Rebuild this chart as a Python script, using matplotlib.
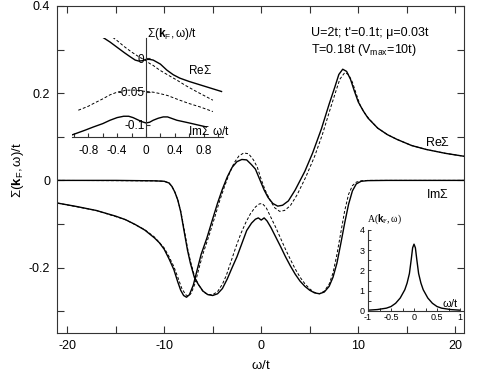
import matplotlib
matplotlib.use("Agg")
import matplotlib.pyplot as plt
from matplotlib.ticker import MultipleLocator

plt.rcParams['font.family'] = ['Liberation Sans', 'DejaVu Sans']
plt.rcParams['mathtext.fontset'] = 'custom'
plt.rcParams['mathtext.rm'] = 'Liberation Sans'
plt.rcParams['mathtext.bf'] = 'Liberation Sans:bold'
plt.rcParams['mathtext.it'] = 'Liberation Sans'
plt.rcParams['mathtext.default'] = 'regular'

# main panel: self energy at k_F, solid and dashed curves
w_re = [-21, -19, -17, -15, -14, -13, -12, -11, -10.5, -10, -9.5, -9, -8.6, -8.3, -8.0,
        -7.7, -7.4, -7.0, -6.6, -6.2, -5.6, -5.0, -4.5, -4.0, -3.5, -3.0, -2.5, -2.0,
        -1.5, -1.0, -0.6, -0.3, 0, 0.3, 0.7, 1.2, 1.7, 2.2, 2.8, 3.5, 4.5, 5.3, 6.2,
        7.0, 7.6, 8.0, 8.4, 8.8, 9.2, 9.6, 10.0, 10.5, 11.0, 12.0, 13.0, 14.0, 15.5,
        17.0, 19.0, 21.0]
re_solid = [-0.052, -0.060, -0.069, -0.082, -0.090, -0.101, -0.114, -0.132, -0.143,
            -0.158, -0.180, -0.205, -0.233, -0.252, -0.264, -0.268, -0.262, -0.240,
            -0.205, -0.170, -0.132, -0.088, -0.052, -0.020, 0.008, 0.030, 0.043, 0.048,
            0.047, 0.036, 0.026, 0.010, -0.006, -0.022, -0.039, -0.053, -0.059, -0.057,
            -0.047, -0.022, 0.021, 0.063, 0.118, 0.175, 0.215, 0.243, 0.255, 0.250,
            0.232, 0.205, 0.180, 0.160, 0.143, 0.120, 0.105, 0.094, 0.080, 0.071,
            0.062, 0.055]

w_re_d = [-21, -17, -14, -12, -11, -10, -9.5, -9.0, -8.6, -8.2, -7.8, -7.5, -7.2, -6.8,
          -6.4, -6.0, -5.4, -4.8, -4.3, -3.8, -3.3, -2.8, -2.3, -1.8, -1.3, -0.8, -0.4,
          0, 0.4, 0.9, 1.4, 1.9, 2.4, 3.0, 3.7, 4.6, 5.5, 6.3, 7.1, 7.7, 8.1, 8.6, 9.0,
          9.4, 9.8, 10.2, 10.7, 11.2, 12, 13, 14, 15.5, 17, 19, 21]
re_dash = [-0.052, -0.069, -0.090, -0.113, -0.130, -0.155, -0.175, -0.198, -0.222,
           -0.247, -0.262, -0.266, -0.258, -0.235, -0.200, -0.168, -0.128, -0.085,
           -0.048, -0.015, 0.015, 0.040, 0.056, 0.063, 0.061, 0.047, 0.030, 0.002,
           -0.022, -0.045, -0.063, -0.071, -0.069, -0.058, -0.033, 0.008, 0.055, 0.105,
           0.163, 0.205, 0.232, 0.247, 0.243, 0.225, 0.198, 0.172, 0.153, 0.139, 0.120,
           0.105, 0.094, 0.080, 0.071, 0.062, 0.055]

w_im = [-21, -15, -11, -10, -9.5, -9.2, -8.9, -8.6, -8.3, -8.0, -7.6, -7.3, -6.9, -6.5,
        -6.0, -5.5, -5.0, -4.5, -4.0, -3.5, -3.0, -2.5, -2.0, -1.5, -1.0, -0.6, -0.3, 0,
        0.3, 0.6, 1.0, 1.5, 2.0, 2.5, 3.0, 3.5, 4.0, 4.5, 5.0, 5.5, 6.0, 6.5, 7.0, 7.4,
        7.8, 8.2, 8.6, 9.0, 9.4, 9.8, 10.3, 11, 13, 21]
im_solid = [0.0, 0.0, -0.001, -0.002, -0.006, -0.014, -0.027, -0.045, -0.072, -0.110,
            -0.160, -0.190, -0.222, -0.238, -0.254, -0.262, -0.264, -0.260, -0.248,
            -0.226, -0.200, -0.175, -0.145, -0.115, -0.098, -0.089, -0.086, -0.091,
            -0.086, -0.093, -0.108, -0.130, -0.152, -0.175, -0.196, -0.215, -0.231,
            -0.243, -0.252, -0.258, -0.260, -0.256, -0.243, -0.222, -0.190, -0.145,
            -0.098, -0.055, -0.024, -0.008, -0.002, -0.0005, 0.0, 0.0]

w_im_d = [-21, -11, -10, -9.5, -9.2, -8.9, -8.6, -8.3, -8.0, -7.6, -7.3, -6.9, -6.5,
          -6.0, -5.5, -5.0, -4.5, -4.0, -3.6, -3.1, -2.6, -2.1, -1.6, -1.1, -0.6, -0.2,
          0.1, 0.5, 1.0, 1.5, 2.0, 2.5, 3.0, 3.5, 4.0, 4.5, 5.0, 5.5, 6.0, 6.5, 7.0, 7.4,
          7.8, 8.2, 8.6, 9.0, 9.4, 9.8, 10.3, 11, 21]
im_dash = [0.0, -0.001, -0.002, -0.006, -0.014, -0.027, -0.045, -0.070, -0.105, -0.155,
           -0.185, -0.218, -0.238, -0.255, -0.262, -0.262, -0.255, -0.238, -0.218,
           -0.185, -0.152, -0.122, -0.097, -0.076, -0.061, -0.054, -0.053, -0.062,
           -0.085, -0.108, -0.133, -0.158, -0.181, -0.203, -0.222, -0.237, -0.249,
           -0.257, -0.260, -0.254, -0.238, -0.212, -0.170, -0.120, -0.070, -0.032,
           -0.012, -0.004, -0.001, 0.0, 0.0]

# upper-left inset: zoom around omega = 0
wi_re = [-1.03, -0.9, -0.73, -0.6, -0.5, -0.4, -0.3, -0.22, -0.15, -0.1, -0.05, 0.0,
         0.05, 0.1, 0.2, 0.29, 0.38, 0.47, 0.6, 0.75, 0.9, 1.05]
ire_solid = [0.047, 0.043, 0.037, 0.031, 0.024, 0.016, 0.008, 0.002, -0.003, -0.0045,
             -0.004, -0.002, -0.002, -0.003, -0.009, -0.018, -0.025, -0.030, -0.035,
             -0.040, -0.045, -0.050]
wi_re_d = [-0.94, -0.8, -0.73, -0.6, -0.5, -0.4, -0.3, -0.2, -0.1, -0.05, 0.0, 0.05,
           0.1, 0.19, 0.3, 0.43, 0.55, 0.7, 0.93]
ire_dash = [0.057, 0.052, 0.049, 0.042, 0.034, 0.026, 0.017, 0.009, 0.002, -0.001,
            -0.004, -0.008, -0.011, -0.018, -0.025, -0.033, -0.041, -0.050, -0.063]
wi_im = [-1.03, -0.85, -0.73, -0.6, -0.5, -0.4, -0.31, -0.24, -0.18, -0.12, -0.06, 0.0,
         0.05, 0.1, 0.17, 0.24, 0.3, 0.43, 0.6, 0.84]
iim_solid = [-0.115, -0.108, -0.103, -0.098, -0.093, -0.089, -0.087, -0.087, -0.089,
             -0.092, -0.095, -0.097, -0.096, -0.093, -0.090, -0.088, -0.088, -0.093,
             -0.097, -0.103]
wi_im_d = [-0.94, -0.8, -0.73, -0.6, -0.5, -0.4, -0.27, -0.15, 0.0, 0.1, 0.19, 0.3,
           0.47, 0.6, 0.75, 0.93]
iim_dash = [-0.078, -0.072, -0.068, -0.061, -0.055, -0.051, -0.048, -0.048, -0.050,
            -0.051, -0.053, -0.056, -0.063, -0.068, -0.073, -0.080]

# lower-right inset: spectral function
wa = [-1.0, -0.8, -0.6, -0.5, -0.4, -0.3, -0.2, -0.15, -0.1, -0.06, -0.03, 0.0, 0.03,
      0.06, 0.1, 0.15, 0.2, 0.3, 0.4, 0.5, 0.6, 0.8, 1.0]
A = [0.04, 0.07, 0.14, 0.22, 0.38, 0.64, 1.05, 1.38, 1.85, 2.55, 3.12, 3.3, 3.12, 2.55,
     1.85, 1.38, 1.05, 0.64, 0.38, 0.22, 0.14, 0.07, 0.04]

spine_c = '#333333'
fig = plt.figure(figsize=(4.91, 3.75), dpi=100)
ax = fig.add_axes([0.1161, 0.112, 0.8289, 0.872])
ax.plot(w_re, re_solid, color='k', lw=1.0)
ax.plot(w_im, im_solid, color='k', lw=1.0)
ax.plot(w_re_d, re_dash, color='k', lw=0.7, dashes=(3, 2))
ax.plot(w_im_d, im_dash, color='k', lw=0.7, dashes=(3, 2))
ax.set_xlim(-21.05, 20.9)
ax.set_ylim(-0.35, 0.4)
ax.xaxis.set_minor_locator(MultipleLocator(5))
ax.yaxis.set_minor_locator(MultipleLocator(0.1))
ax.tick_params(which='both', direction='in', top=True, right=True, length=5,
               width=0.8, color=spine_c, labelsize=9, pad=5)
ax.set_yticks([-0.2, 0, 0.2, 0.4])
ax.set_yticklabels(['-0.2', '0', '0.2', '0.4'])
ax.set_xticks([-20, -10, 0, 10, 20])
ax.set_xticklabels(['-20', '-10', '0', '10', '20'])
for s in ax.spines.values():
    s.set_linewidth(0.8)
    s.set_color(spine_c)
ax.set_xlabel(r'$\omega/t$', fontsize=9.5, labelpad=5)
ax.set_ylabel(r'$\Sigma(\mathbf{k}_F,\omega)/t$', fontsize=9.5, labelpad=2)
fig.text(438 / 491, 1 - 142 / 375, r'Re$\Sigma$', fontsize=9, ha='center', va='center')
fig.text(438 / 491, 1 - 195 / 375, r'Im$\Sigma$', fontsize=9, ha='center', va='center')
ax.text(5.1, 0.338, "U=2t; t'=0.1t; \u03bc=0.03t", fontsize=9, ha='left', va='center')
ax.text(5.1, 0.3, r'T=0.18t (V$_{max}$=10t)', fontsize=9, ha='left', va='center')

# inset 1
ax1 = fig.add_axes([0.1466, 0.6347, 0.3075, 0.264])
ax1.patch.set_alpha(0)
ax1.plot(wi_re, ire_solid, color='k', lw=1.0)
ax1.plot(wi_im, iim_solid, color='k', lw=1.0)
ax1.plot(wi_re_d, ire_dash, color='k', lw=0.7, dashes=(3, 2))
ax1.plot(wi_im_d, iim_dash, color='k', lw=0.7, dashes=(3, 2))
ax1.set_xlim(-1.028, 1.07)
ax1.set_ylim(-0.118, 0.03)
ax1.spines['top'].set_visible(False)
ax1.spines['right'].set_visible(False)
ax1.spines['left'].set_position(('data', 0))
for s in ax1.spines.values():
    s.set_linewidth(0.8)
    s.set_color(spine_c)
ax1.set_xticks([-0.8, -0.4, 0, 0.4, 0.8])
ax1.set_xticklabels(['-0.8', '-0.4', '0', '0.4', '0.8'])
ax1.xaxis.set_minor_locator(MultipleLocator(0.2))
ax1.set_yticks([-0.1, -0.05, 0])
ax1.set_yticklabels(['-0.1', '-0.05', '0'])
ax1.tick_params(which='both', direction='in', length=3, width=0.8, color=spine_c,
                labelsize=8.5)
ax1.tick_params(axis='x', pad=6)
ax1.tick_params(axis='y', pad=1)
ax1.text(0.01, 0.0365, r'$\Sigma(\mathbf{k}_F,\omega)/t$', fontsize=8.5, ha='left',
         va='center')
ax1.text(0.58, -0.018, r'Re$\Sigma$', fontsize=8.5, ha='left', va='center')
ax1.text(0.58, -0.1105, r'Im$\Sigma$', fontsize=8.5, ha='left', va='center')
ax1.text(0.92, -0.1105, r'$\omega/t$', fontsize=8.5, ha='left', va='center')

# inset 2
ax2 = fig.add_axes([0.7495, 0.1707, 0.1874, 0.216])
ax2.patch.set_alpha(0)
ax2.plot(wa, A, color='k', lw=1.0)
ax2.set_xlim(-1, 1)
ax2.set_ylim(0, 4)
ax2.spines['top'].set_visible(False)
ax2.spines['right'].set_visible(False)
for s in ax2.spines.values():
    s.set_linewidth(0.8)
    s.set_color(spine_c)
ax2.set_xticks([-1, -0.5, 0, 0.5, 1])
ax2.set_xticklabels(['-1', '-0.5', '0', '0.5', '1'])
ax2.xaxis.set_minor_locator(MultipleLocator(0.25))
ax2.set_yticks([0, 1, 2, 3, 4])
ax2.yaxis.set_minor_locator(MultipleLocator(0.5))
ax2.tick_params(which='both', direction='in', length=2.5, width=0.7, color=spine_c,
                labelsize=6.5, pad=1.5)
ax2.tick_params(axis='y', pad=2.5)
ax2.text(-1.02, 4.55, r'A$(\mathbf{k}_F,\omega)$', fontsize=7, ha='left', va='center',
         family=['Liberation Serif', 'DejaVu Serif'])
ax2.text(0.8, 0.4, r'$\omega/t$', fontsize=8, ha='center', va='center')

fig.savefig('out.png', dpi=100)
